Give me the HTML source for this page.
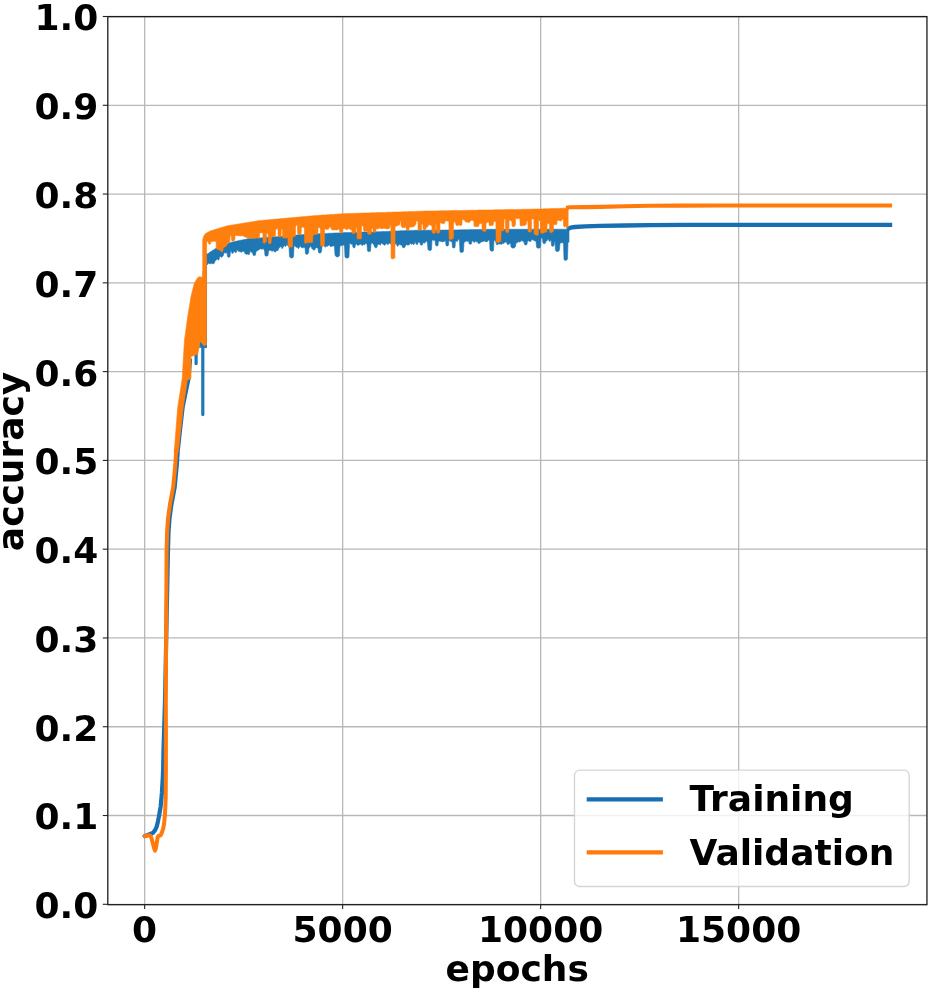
<!DOCTYPE html>
<html lang="en">
<head>
<meta charset="utf-8">
<title>accuracy vs epochs</title>
<style>
html,body{margin:0;padding:0;background:#fff;}
body{width:931px;height:992px;overflow:hidden;}
svg text{white-space:pre;}
</style>
</head>
<body>
<svg width="931" height="992" viewBox="0 0 931 992" style="display:block">
<rect x="0" y="0" width="931" height="992" fill="#fff"/>
<g stroke="#b8b8b8" stroke-width="1.3" fill="none">
<line x1="144.65" y1="16.5" x2="144.65" y2="904.3"/>
<line x1="342.65" y1="16.5" x2="342.65" y2="904.3"/>
<line x1="540.65" y1="16.5" x2="540.65" y2="904.3"/>
<line x1="738.65" y1="16.5" x2="738.65" y2="904.3"/>
<line x1="107.7" y1="904.30" x2="926.8" y2="904.30"/>
<line x1="107.7" y1="815.52" x2="926.8" y2="815.52"/>
<line x1="107.7" y1="726.74" x2="926.8" y2="726.74"/>
<line x1="107.7" y1="637.96" x2="926.8" y2="637.96"/>
<line x1="107.7" y1="549.18" x2="926.8" y2="549.18"/>
<line x1="107.7" y1="460.40" x2="926.8" y2="460.40"/>
<line x1="107.7" y1="371.62" x2="926.8" y2="371.62"/>
<line x1="107.7" y1="282.84" x2="926.8" y2="282.84"/>
<line x1="107.7" y1="194.06" x2="926.8" y2="194.06"/>
<line x1="107.7" y1="105.28" x2="926.8" y2="105.28"/>
<line x1="107.7" y1="16.50" x2="926.8" y2="16.50"/>
</g>
<clipPath id="ax"><rect x="107.7" y="16.5" width="819.0999999999999" height="887.8"/></clipPath>
<g clip-path="url(#ax)">
<g fill="#1f77b4" stroke="#1f77b4" stroke-linejoin="round" stroke-linecap="round">
<polygon points="206.0,254.9 206.5,254.6 207.0,254.2 207.5,253.9 208.0,253.5 208.5,253.2 209.0,252.9 209.5,252.5 210.0,252.2 210.5,251.8 211.0,251.5 211.5,251.2 212.0,250.9 212.5,250.5 213.0,250.2 213.5,249.9 214.0,249.6 214.5,249.3 215.0,248.9 215.5,248.6 216.0,248.3 216.5,248.1 217.0,247.9 217.5,247.7 218.0,247.5 218.5,247.3 219.0,247.1 219.5,246.9 220.0,246.7 220.5,246.4 221.0,246.2 221.5,246.0 222.0,245.8 222.5,245.6 223.0,245.4 223.5,245.2 224.0,245.0 224.5,244.8 225.0,244.6 225.5,244.4 226.0,244.3 226.5,244.1 227.0,243.9 227.5,243.7 228.0,243.5 228.5,243.3 229.0,243.1 229.5,243.0 230.0,242.8 230.5,242.6 231.0,242.4 231.5,242.3 232.0,242.2 232.5,242.1 233.0,241.9 233.5,241.8 234.0,241.7 234.5,241.6 235.0,241.5 235.5,241.4 236.0,241.3 236.5,241.1 237.0,241.0 237.5,240.9 238.0,240.8 238.5,240.7 239.0,240.6 239.5,240.5 240.0,240.4 240.5,240.3 241.0,240.2 241.5,240.1 242.0,240.0 242.5,239.9 243.0,239.8 243.5,239.7 244.0,239.6 244.5,239.5 245.0,239.4 245.5,239.3 246.0,239.2 246.5,239.1 247.0,239.0 247.5,238.9 248.0,238.9 248.5,238.8 249.0,238.7 249.5,238.6 250.0,238.5 250.5,238.5 251.0,238.4 251.5,238.4 252.0,238.4 252.5,238.4 253.0,238.3 253.5,238.3 254.0,238.3 254.5,238.2 255.0,238.2 255.5,238.2 256.0,238.2 256.5,238.1 257.0,238.1 257.5,238.1 258.0,238.0 258.5,238.0 259.0,238.0 259.5,237.9 260.0,237.9 260.5,237.9 261.0,237.9 261.5,237.8 262.0,237.8 262.5,237.8 263.0,237.7 263.5,237.7 264.0,237.7 264.5,237.6 265.0,237.6 265.5,237.5 266.0,237.5 266.5,237.5 267.0,237.4 267.5,237.4 268.0,237.4 268.5,237.3 269.0,237.3 269.5,237.3 270.0,237.2 270.5,237.2 271.0,237.2 271.5,237.1 272.0,237.1 272.5,237.0 273.0,237.0 273.5,237.0 274.0,236.9 274.5,236.9 275.0,236.9 275.5,236.8 276.0,236.8 276.5,236.8 277.0,236.7 277.5,236.7 278.0,236.6 278.5,236.6 279.0,236.6 279.5,236.5 280.0,236.5 280.5,236.5 281.0,236.4 281.5,236.4 282.0,236.3 282.5,236.3 283.0,236.2 283.5,236.2 284.0,236.2 284.5,236.1 285.0,236.1 285.5,236.0 286.0,236.0 286.5,235.9 287.0,235.9 287.5,235.9 288.0,235.8 288.5,235.8 289.0,235.7 289.5,235.7 290.0,235.7 290.5,235.6 291.0,235.6 291.5,235.5 292.0,235.5 292.5,235.4 293.0,235.4 293.5,235.4 294.0,235.3 294.5,235.3 295.0,235.2 295.5,235.2 296.0,235.1 296.5,235.1 297.0,235.1 297.5,235.0 298.0,235.0 298.5,234.9 299.0,234.9 299.5,234.8 300.0,234.8 300.5,234.8 301.0,234.7 301.5,234.7 302.0,234.7 302.5,234.7 303.0,234.6 303.5,234.6 304.0,234.6 304.5,234.6 305.0,234.5 305.5,234.5 306.0,234.5 306.5,234.4 307.0,234.4 307.5,234.4 308.0,234.4 308.5,234.3 309.0,234.3 309.5,234.3 310.0,234.2 310.5,234.2 311.0,234.2 311.5,234.2 312.0,234.1 312.5,234.1 313.0,234.1 313.5,234.1 314.0,234.0 314.5,234.0 315.0,234.0 315.5,233.9 316.0,233.9 316.5,233.9 317.0,233.9 317.5,233.8 318.0,233.8 318.5,233.8 319.0,233.8 319.5,233.7 320.0,233.7 320.5,233.7 321.0,233.7 321.5,233.6 322.0,233.6 322.5,233.6 323.0,233.6 323.5,233.5 324.0,233.5 324.5,233.5 325.0,233.5 325.5,233.5 326.0,233.4 326.5,233.4 327.0,233.4 327.5,233.4 328.0,233.4 328.5,233.3 329.0,233.3 329.5,233.3 330.0,233.3 330.5,233.2 331.0,233.2 331.5,233.2 332.0,233.2 332.5,233.2 333.0,233.1 333.5,233.1 334.0,233.1 334.5,233.1 335.0,233.1 335.5,233.0 336.0,233.0 336.5,233.0 337.0,233.0 337.5,232.9 338.0,232.9 338.5,232.9 339.0,232.9 339.5,232.9 340.0,232.8 340.5,232.8 341.0,232.8 341.5,232.8 342.0,232.7 342.5,232.7 343.0,232.7 343.5,232.7 344.0,232.7 344.5,232.6 345.0,232.6 345.5,232.6 346.0,232.6 346.5,232.6 347.0,232.5 347.5,232.5 348.0,232.5 348.5,232.5 349.0,232.4 349.5,232.4 350.0,232.4 350.5,232.4 351.0,232.4 351.5,232.4 352.0,232.4 352.5,232.3 353.0,232.3 353.5,232.3 354.0,232.3 354.5,232.3 355.0,232.3 355.5,232.3 356.0,232.3 356.5,232.2 357.0,232.2 357.5,232.2 358.0,232.2 358.5,232.2 359.0,232.2 359.5,232.2 360.0,232.2 360.5,232.2 361.0,232.1 361.5,232.1 362.0,232.1 362.5,232.1 363.0,232.1 363.5,232.1 364.0,232.1 364.5,232.1 365.0,232.1 365.5,232.0 366.0,232.0 366.5,232.0 367.0,232.0 367.5,232.0 368.0,232.0 368.5,232.0 369.0,232.0 369.5,231.9 370.0,231.9 370.5,231.9 371.0,231.9 371.5,231.9 372.0,231.9 372.5,231.9 373.0,231.9 373.5,231.9 374.0,231.8 374.5,231.8 375.0,231.8 375.5,231.8 376.0,231.8 376.5,231.8 377.0,231.8 377.5,231.8 378.0,231.7 378.5,231.7 379.0,231.7 379.5,231.7 380.0,231.7 380.5,231.7 381.0,231.7 381.5,231.6 382.0,231.6 382.5,231.6 383.0,231.6 383.5,231.5 384.0,231.5 384.5,231.5 385.0,231.5 385.5,231.5 386.0,231.4 386.5,231.4 387.0,231.4 387.5,231.4 388.0,231.4 388.5,231.3 389.0,231.3 389.5,231.3 390.0,231.3 390.5,231.2 391.0,231.2 391.5,231.2 392.0,231.2 392.5,231.2 393.0,231.1 393.5,231.1 394.0,231.1 394.5,231.1 395.0,231.1 395.5,231.0 396.0,231.0 396.5,231.0 397.0,231.0 397.5,230.9 398.0,230.9 398.5,230.9 399.0,230.9 399.5,230.9 400.0,230.8 400.5,230.8 401.0,230.8 401.5,230.8 402.0,230.7 402.5,230.7 403.0,230.7 403.5,230.7 404.0,230.7 404.5,230.6 405.0,230.6 405.5,230.6 406.0,230.6 406.5,230.6 407.0,230.5 407.5,230.5 408.0,230.5 408.5,230.5 409.0,230.4 409.5,230.4 410.0,230.4 410.5,230.4 411.0,230.4 411.5,230.4 412.0,230.4 412.5,230.4 413.0,230.4 413.5,230.4 414.0,230.4 414.5,230.4 415.0,230.3 415.5,230.3 416.0,230.3 416.5,230.3 417.0,230.3 417.5,230.3 418.0,230.3 418.5,230.3 419.0,230.3 419.5,230.3 420.0,230.3 420.5,230.3 421.0,230.3 421.5,230.3 422.0,230.3 422.5,230.3 423.0,230.3 423.5,230.3 424.0,230.3 424.5,230.3 425.0,230.2 425.5,230.2 426.0,230.2 426.5,230.2 427.0,230.2 427.5,230.2 428.0,230.2 428.5,230.2 429.0,230.2 429.5,230.2 430.0,230.2 430.5,230.2 431.0,230.2 431.5,230.2 432.0,230.2 432.5,230.2 433.0,230.2 433.5,230.2 434.0,230.2 434.5,230.2 435.0,230.2 435.5,230.1 436.0,230.1 436.5,230.1 437.0,230.1 437.5,230.1 438.0,230.1 438.5,230.1 439.0,230.1 439.5,230.1 440.0,230.1 440.5,230.1 441.0,230.1 441.5,230.1 442.0,230.1 442.5,230.1 443.0,230.1 443.5,230.1 444.0,230.1 444.5,230.1 445.0,230.1 445.5,230.0 446.0,230.0 446.5,230.0 447.0,230.0 447.5,230.0 448.0,230.0 448.5,230.0 449.0,230.0 449.5,230.0 450.0,230.0 450.5,230.0 451.0,230.0 451.5,230.0 452.0,230.0 452.5,230.0 453.0,229.9 453.5,229.9 454.0,229.9 454.5,229.9 455.0,229.9 455.5,229.9 456.0,229.9 456.5,229.9 457.0,229.9 457.5,229.9 458.0,229.9 458.5,229.9 459.0,229.8 459.5,229.8 460.0,229.8 460.5,229.8 461.0,229.8 461.5,229.8 462.0,229.8 462.5,229.8 463.0,229.8 463.5,229.8 464.0,229.8 464.5,229.7 465.0,229.7 465.5,229.7 466.0,229.7 466.5,229.7 467.0,229.7 467.5,229.7 468.0,229.7 468.5,229.7 469.0,229.7 469.5,229.7 470.0,229.7 470.5,229.6 471.0,229.6 471.5,229.6 472.0,229.6 472.5,229.6 473.0,229.6 473.5,229.6 474.0,229.6 474.5,229.6 475.0,229.6 475.5,229.6 476.0,229.5 476.5,229.5 477.0,229.5 477.5,229.5 478.0,229.5 478.5,229.5 479.0,229.5 479.5,229.5 480.0,229.5 480.5,229.5 481.0,229.5 481.5,229.4 482.0,229.4 482.5,229.4 483.0,229.4 483.5,229.4 484.0,229.4 484.5,229.4 485.0,229.4 485.5,229.4 486.0,229.4 486.5,229.4 487.0,229.4 487.5,229.3 488.0,229.3 488.5,229.3 489.0,229.3 489.5,229.3 490.0,229.3 490.5,229.3 491.0,229.3 491.5,229.3 492.0,229.3 492.5,229.3 493.0,229.3 493.5,229.3 494.0,229.3 494.5,229.3 495.0,229.3 495.5,229.3 496.0,229.3 496.5,229.3 497.0,229.3 497.5,229.3 498.0,229.3 498.5,229.3 499.0,229.3 499.5,229.3 500.0,229.3 500.5,229.3 501.0,229.3 501.5,229.3 502.0,229.3 502.5,229.3 503.0,229.3 503.5,229.3 504.0,229.3 504.5,229.3 505.0,229.3 505.5,229.3 506.0,229.3 506.5,229.3 507.0,229.3 507.5,229.3 508.0,229.3 508.5,229.3 509.0,229.3 509.5,229.3 510.0,229.3 510.5,229.3 511.0,229.3 511.5,229.3 512.0,229.3 512.5,229.3 513.0,229.3 513.5,229.3 514.0,229.3 514.5,229.3 515.0,229.3 515.5,229.3 516.0,229.3 516.5,229.3 517.0,229.3 517.5,229.3 518.0,229.3 518.5,229.3 519.0,229.3 519.5,229.3 520.0,229.3 520.5,229.3 521.0,229.3 521.5,229.3 522.0,229.3 522.5,229.3 523.0,229.3 523.5,229.3 524.0,229.3 524.5,229.3 525.0,229.3 525.5,229.3 526.0,229.3 526.5,229.3 527.0,229.3 527.5,229.3 528.0,229.3 528.5,229.3 529.0,229.3 529.5,229.2 530.0,229.2 530.5,229.2 531.0,229.2 531.5,229.2 532.0,229.2 532.5,229.2 533.0,229.2 533.5,229.2 534.0,229.2 534.5,229.2 535.0,229.2 535.5,229.2 536.0,229.2 536.5,229.2 537.0,229.2 537.5,229.2 538.0,229.2 538.5,229.2 539.0,229.2 539.5,229.2 540.0,229.2 540.5,229.2 541.0,229.2 541.5,229.2 542.0,229.2 542.5,229.2 543.0,229.2 543.5,229.2 544.0,229.2 544.5,229.2 545.0,229.2 545.5,229.2 546.0,229.2 546.5,229.2 547.0,229.2 547.5,229.2 548.0,229.2 548.5,229.2 549.0,229.2 549.5,229.2 550.0,229.2 550.5,229.2 551.0,229.2 551.5,229.2 552.0,229.2 552.5,229.2 553.0,229.2 553.5,229.2 554.0,229.2 554.5,229.2 555.0,229.2 555.5,229.2 556.0,229.2 556.5,229.2 557.0,229.2 557.5,229.2 558.0,229.2 558.5,229.2 559.0,229.2 559.5,229.2 560.0,229.2 560.5,229.2 561.0,229.2 561.5,229.2 562.0,229.2 562.5,229.2 563.0,229.2 563.5,229.2 564.0,229.2 564.5,229.2 565.0,229.2 565.5,229.2 566.0,229.2 566.5,229.2 567.0,229.2 567.5,229.2 568.0,229.2 568.5,229.2 569.0,229.2 569.0,242.4 568.5,242.0 568.0,241.8 567.5,259.0 567.0,259.8 566.5,260.2 566.0,260.4 565.5,260.4 565.0,260.3 564.5,260.1 564.0,259.6 563.5,243.1 563.0,242.9 562.5,242.8 562.0,242.4 561.5,242.8 561.0,242.9 560.5,243.0 560.0,243.2 559.5,249.7 559.0,250.7 558.5,251.2 558.0,251.4 557.5,251.5 557.0,251.5 556.5,251.4 556.0,251.1 555.5,250.6 555.0,241.7 554.5,241.6 554.0,245.6 553.5,246.1 553.0,246.3 552.5,246.3 552.0,246.1 551.5,245.8 551.0,239.7 550.5,240.0 550.0,241.4 549.5,241.3 549.0,240.9 548.5,239.4 548.0,239.3 547.5,239.4 547.0,240.9 546.5,241.0 546.0,240.8 545.5,243.1 545.0,243.5 544.5,243.7 544.0,243.7 543.5,243.5 543.0,242.9 542.5,239.1 542.0,238.1 541.5,238.0 541.0,238.3 540.5,247.2 540.0,247.7 539.5,248.0 539.0,248.1 538.5,248.2 538.0,248.1 537.5,248.0 537.0,247.7 536.5,247.2 536.0,241.3 535.5,241.1 535.0,240.9 534.5,241.1 534.0,239.7 533.5,240.1 533.0,240.2 532.5,239.8 532.0,239.5 531.5,239.4 531.0,241.1 530.5,241.5 530.0,241.7 529.5,241.4 529.0,241.0 528.5,240.8 528.0,240.9 527.5,241.1 527.0,244.2 526.5,244.8 526.0,245.0 525.5,245.0 525.0,244.8 524.5,244.4 524.0,241.8 523.5,242.1 523.0,241.1 522.5,240.9 522.0,240.6 521.5,240.8 521.0,241.1 520.5,241.5 520.0,241.7 519.5,242.2 519.0,241.9 518.5,241.6 518.0,242.1 517.5,242.4 517.0,242.7 516.5,243.0 516.0,242.8 515.5,246.6 515.0,247.3 514.5,247.7 514.0,248.0 513.5,248.1 513.0,248.1 512.5,248.0 512.0,247.8 511.5,247.4 511.0,246.8 510.5,242.6 510.0,243.2 509.5,243.7 509.0,244.3 508.5,244.5 508.0,244.5 507.5,244.3 507.0,243.9 506.5,242.1 506.0,241.8 505.5,242.1 505.0,242.0 504.5,242.7 504.0,243.5 503.5,243.2 503.0,243.5 502.5,243.6 502.0,244.1 501.5,244.2 501.0,244.5 500.5,244.1 500.0,244.1 499.5,243.9 499.0,244.0 498.5,243.8 498.0,244.0 497.5,244.9 497.0,245.1 496.5,244.1 496.0,242.8 495.5,241.0 495.0,240.0 494.5,240.4 494.0,240.0 493.5,250.4 493.0,250.9 492.5,251.1 492.0,251.2 491.5,251.2 491.0,251.0 490.5,250.6 490.0,249.8 489.5,240.5 489.0,240.2 488.5,240.2 488.0,240.5 487.5,241.5 487.0,241.8 486.5,241.7 486.0,241.8 485.5,241.6 485.0,241.7 484.5,240.7 484.0,241.1 483.5,241.1 483.0,242.0 482.5,241.6 482.0,241.4 481.5,242.0 481.0,242.4 480.5,242.6 480.0,242.8 479.5,243.4 479.0,243.6 478.5,243.6 478.0,243.3 477.5,241.4 477.0,241.6 476.5,242.0 476.0,241.6 475.5,241.3 475.0,241.9 474.5,242.2 474.0,242.5 473.5,241.5 473.0,241.3 472.5,240.9 472.0,240.8 471.5,243.8 471.0,244.2 470.5,244.3 470.0,244.2 469.5,244.0 469.0,243.3 468.5,240.7 468.0,241.0 467.5,241.4 467.0,241.3 466.5,241.1 466.0,240.8 465.5,241.7 465.0,241.8 464.5,242.1 464.0,242.3 463.5,251.1 463.0,251.9 462.5,252.3 462.0,252.5 461.5,252.5 461.0,252.4 460.5,252.2 460.0,251.7 459.5,241.7 459.0,239.2 458.5,239.2 458.0,239.5 457.5,241.5 457.0,241.5 456.5,241.3 456.0,241.0 455.5,241.3 455.0,247.3 454.5,247.8 454.0,248.0 453.5,248.0 453.0,247.8 452.5,247.5 452.0,241.6 451.5,242.0 451.0,241.0 450.5,241.2 450.0,241.1 449.5,240.4 449.0,240.2 448.5,245.2 448.0,245.8 447.5,246.0 447.0,246.0 446.5,245.8 446.0,245.4 445.5,240.2 445.0,240.4 444.5,241.4 444.0,241.6 443.5,241.5 443.0,242.1 442.5,241.9 442.0,241.9 441.5,241.2 441.0,241.5 440.5,241.5 440.0,241.1 439.5,241.3 439.0,241.0 438.5,241.1 438.0,245.5 437.5,245.9 437.0,246.0 436.5,245.9 436.0,245.7 435.5,245.0 435.0,240.0 434.5,240.3 434.0,240.3 433.5,240.6 433.0,240.1 432.5,240.1 432.0,240.3 431.5,249.7 431.0,250.2 430.5,250.5 430.0,250.6 429.5,250.6 429.0,250.4 428.5,250.1 428.0,249.5 427.5,243.5 427.0,241.4 426.5,241.1 426.0,240.9 425.5,242.3 425.0,242.6 424.5,243.0 424.0,243.2 423.5,242.7 423.0,242.4 422.5,244.8 422.0,245.1 421.5,245.2 421.0,245.1 420.5,244.8 420.0,242.9 419.5,242.6 419.0,241.9 418.5,242.2 418.0,242.6 417.5,244.7 417.0,244.6 416.5,244.3 416.0,244.1 415.5,242.1 415.0,242.5 414.5,242.9 414.0,244.7 413.5,244.5 413.0,244.2 412.5,243.7 412.0,244.0 411.5,244.4 411.0,243.5 410.5,243.4 410.0,243.2 409.5,244.6 409.0,244.7 408.5,245.0 408.0,245.3 407.5,245.1 407.0,244.9 406.5,244.5 406.0,245.2 405.5,245.4 405.0,246.8 404.5,247.5 404.0,247.7 403.5,247.8 403.0,247.7 402.5,247.3 402.0,245.6 401.5,244.9 401.0,245.1 400.5,245.0 400.0,244.6 399.5,244.5 399.0,244.6 398.5,244.9 398.0,246.1 397.5,246.2 397.0,245.9 396.5,243.9 396.0,243.7 395.5,243.9 395.0,243.9 394.5,244.1 394.0,244.0 393.5,244.3 393.0,244.0 392.5,243.9 392.0,244.2 391.5,244.1 391.0,244.2 390.5,244.0 390.0,243.2 389.5,243.0 389.0,243.1 388.5,244.2 388.0,244.5 387.5,244.5 387.0,243.8 386.5,243.5 386.0,243.3 385.5,244.7 385.0,245.0 384.5,245.2 384.0,245.1 383.5,244.4 383.0,244.1 382.5,244.0 382.0,242.9 381.5,243.2 381.0,243.2 380.5,245.2 380.0,244.8 379.5,244.6 379.0,244.2 378.5,244.5 378.0,244.7 377.5,244.5 377.0,247.3 376.5,247.7 376.0,247.8 375.5,247.7 375.0,247.5 374.5,246.8 374.0,244.8 373.5,244.4 373.0,244.1 372.5,242.7 372.0,243.0 371.5,243.4 371.0,243.8 370.5,251.0 370.0,251.4 369.5,251.6 369.0,251.7 368.5,251.6 368.0,251.4 367.5,251.0 367.0,244.2 366.5,244.0 366.0,243.3 365.5,243.6 365.0,244.1 364.5,245.0 364.0,244.9 363.5,244.6 363.0,245.1 362.5,245.3 362.0,245.7 361.5,244.3 361.0,244.4 360.5,244.1 360.0,243.9 359.5,244.7 359.0,244.9 358.5,245.2 358.0,245.4 357.5,245.2 357.0,244.8 356.5,243.9 356.0,243.9 355.5,244.2 355.0,247.4 354.5,247.7 354.0,247.8 353.5,247.7 353.0,247.4 352.5,244.0 352.0,244.4 351.5,244.3 351.0,244.2 350.5,243.9 350.0,242.9 349.5,242.9 349.0,257.1 348.5,257.6 348.0,257.9 347.5,258.0 347.0,258.1 346.5,258.0 346.0,257.9 345.5,257.6 345.0,257.1 344.5,245.7 344.0,245.4 343.5,245.1 343.0,245.0 342.5,245.3 342.0,245.5 341.5,245.7 341.0,245.7 340.5,245.8 340.0,245.6 339.5,255.8 339.0,256.3 338.5,256.6 338.0,256.8 337.5,256.9 337.0,256.9 336.5,256.7 336.0,256.5 335.5,256.0 335.0,255.1 334.5,246.6 334.0,246.2 333.5,245.9 333.0,245.8 332.5,246.0 332.0,246.4 331.5,246.6 331.0,246.8 330.5,246.4 330.0,246.2 329.5,244.7 329.0,245.1 328.5,245.4 328.0,245.4 327.5,246.5 327.0,246.1 326.5,246.0 326.0,246.6 325.5,247.0 325.0,247.2 324.5,246.0 324.0,245.7 323.5,245.4 323.0,245.6 322.5,246.0 322.0,246.5 321.5,251.7 321.0,252.5 320.5,252.9 320.0,253.0 319.5,253.0 319.0,252.8 318.5,252.4 318.0,248.2 317.5,248.0 317.0,247.8 316.5,247.5 316.0,247.8 315.5,248.3 315.0,249.6 314.5,249.9 314.0,250.0 313.5,249.9 313.0,249.6 312.5,248.7 312.0,249.0 311.5,246.9 311.0,246.7 310.5,246.3 310.0,247.4 309.5,247.5 309.0,247.9 308.5,253.0 308.0,253.8 307.5,254.2 307.0,254.3 306.5,254.3 306.0,254.1 305.5,253.7 305.0,247.7 304.5,247.5 304.0,247.1 303.5,247.6 303.0,247.7 302.5,248.1 302.0,247.6 301.5,247.6 301.0,247.3 300.5,246.3 300.0,246.2 299.5,246.4 299.0,248.3 298.5,248.5 298.0,248.3 297.5,247.5 297.0,247.2 296.5,247.1 296.0,247.4 295.5,246.0 295.0,246.0 294.5,245.7 294.0,246.6 293.5,257.0 293.0,257.5 292.5,257.8 292.0,258.0 291.5,258.0 291.0,257.9 290.5,257.7 290.0,257.3 289.5,256.6 289.0,246.1 288.5,246.1 288.0,245.9 287.5,245.1 287.0,244.8 286.5,244.8 286.0,246.1 285.5,246.4 285.0,246.4 284.5,245.7 284.0,245.7 283.5,245.9 283.0,247.6 282.5,248.2 282.0,248.8 281.5,246.8 281.0,246.8 280.5,246.8 280.0,247.1 279.5,247.8 279.0,248.4 278.5,248.8 278.0,250.7 277.5,250.5 277.0,250.5 276.5,251.0 276.0,251.6 275.5,252.0 275.0,251.8 274.5,251.7 274.0,251.6 273.5,250.2 273.0,250.6 272.5,251.2 272.0,251.4 271.5,251.1 271.0,250.6 270.5,250.3 270.0,250.1 269.5,250.4 269.0,250.6 268.5,251.6 268.0,255.4 267.5,255.9 267.0,256.1 266.5,256.2 266.0,256.1 265.5,255.9 265.0,255.4 264.5,250.4 264.0,250.0 263.5,248.6 263.0,248.8 262.5,249.1 262.0,249.3 261.5,249.2 261.0,248.9 260.5,248.7 260.0,248.9 259.5,249.3 259.0,250.0 258.5,250.0 258.0,249.8 257.5,250.8 257.0,250.9 256.5,251.2 256.0,251.7 255.5,255.0 255.0,255.4 254.5,255.6 254.0,255.6 253.5,255.4 253.0,254.8 252.5,252.4 252.0,252.6 251.5,252.5 251.0,251.3 250.5,251.3 250.0,251.6 249.5,254.2 249.0,254.6 248.5,254.6 248.0,254.4 247.5,254.1 247.0,254.2 246.5,254.6 246.0,254.1 245.5,254.0 245.0,253.5 244.5,251.8 244.0,251.5 243.5,251.5 243.0,251.3 242.5,251.4 242.0,251.3 241.5,252.5 241.0,252.1 240.5,251.8 240.0,251.9 239.5,251.5 239.0,251.6 238.5,251.4 238.0,250.3 237.5,250.1 237.0,250.2 236.5,252.2 236.0,252.6 235.5,252.8 235.0,251.7 234.5,251.5 234.0,251.4 233.5,252.6 233.0,253.1 232.5,253.4 232.0,253.5 231.5,251.5 231.0,251.3 230.5,251.3 230.0,256.7 229.5,257.1 229.0,257.3 228.5,257.3 228.0,257.1 227.5,256.5 227.0,252.4 226.5,252.8 226.0,253.2 225.5,253.1 225.0,252.9 224.5,252.7 224.0,252.6 223.5,255.1 223.0,255.9 222.5,256.5 222.0,257.1 221.5,257.2 221.0,257.3 220.5,255.9 220.0,256.6 219.5,257.4 219.0,259.7 218.5,260.0 218.0,260.1 217.5,258.8 217.0,259.2 216.5,259.8 216.0,260.4 215.5,260.6 215.0,260.6 214.5,263.0 214.0,263.5 213.5,263.7 213.0,263.8 212.5,263.7 212.0,263.5 211.5,263.4 211.0,263.3 210.5,263.6 210.0,264.2 209.5,263.4 209.0,263.5 208.5,263.3 208.0,263.0 207.5,264.5 207.0,264.7 206.5,265.1 206.0,264.9" stroke-width="0.6"/>
<polyline points="144.6,836.1 149.5,834.2 151.5,833.6 153.3,832.6 155.0,830.3 156.5,827.2 157.7,822.6 158.8,817.2 160.7,806.3 161.9,792.7 162.7,779.1 163.1,770.0 163.5,750.0 164.2,727.0 165.0,700.0 166.6,620.0 168.0,550.0 168.5,532.0 169.5,518.5 171.5,504.0 174.7,487.0 176.8,465.0 177.8,450.0 182.6,407.4 188.5,378.6 190.0,360.0" fill="none" stroke="#176fb2" stroke-width="4.2"/>
<line x1="196.1" y1="348" x2="196.1" y2="363.6" stroke-width="3.2"/>
<line x1="202.8" y1="338" x2="202.8" y2="414.6" stroke-width="3.2"/>
<polygon points="199.5,338 206.3,338 206.3,347.3 199.5,347.3" stroke-width="0.8"/>
<line x1="205.6" y1="347" x2="205.6" y2="254" stroke-width="2.6"/>
<polyline points="569.0,228.3 570.5,227.7 572.0,227.4 575.0,227.0 585.0,226.4 600.0,225.9 625.0,225.5 650.0,225.1 685.0,224.9 720.0,224.9 890.0,224.9" fill="none" stroke="#176fb2" stroke-width="4.4" stroke-linecap="square"/>
</g>
<g fill="#ff7f0e" stroke="#ff7f0e" stroke-linejoin="round" stroke-linecap="round">
<polygon points="174.2,452.0 177.7,407.4 182.2,378.6 184.4,340.9 187.5,318.0 191.0,296.5 194.3,283.2 197.7,277.7 200.0,276.6 202.1,277.7 202.7,270.0 202.7,240.0 203.5,236.5 205.5,233.5 206.6,232.9 206.8,232.8 207.1,232.7 207.3,232.5 207.6,232.4 207.8,232.3 208.1,232.1 208.3,232.0 208.6,231.9 208.8,231.8 209.1,231.6 209.3,231.5 209.6,231.4 209.8,231.2 210.1,231.1 210.3,231.0 210.6,230.9 210.8,230.8 211.1,230.7 211.3,230.6 211.6,230.6 211.8,230.5 212.1,230.4 212.3,230.3 212.6,230.3 212.8,230.2 213.1,230.1 213.3,230.0 213.6,230.0 213.8,229.9 214.1,229.8 214.3,229.7 214.6,229.6 214.8,229.6 215.1,229.5 215.3,229.4 215.6,229.3 215.8,229.3 216.1,229.2 216.3,229.1 216.6,229.0 216.8,229.0 217.1,228.9 217.3,228.8 217.6,228.7 217.8,228.7 218.1,228.6 218.3,228.5 218.6,228.4 218.8,228.4 219.1,228.3 219.3,228.2 219.6,228.1 219.8,228.0 220.1,228.0 220.3,227.9 220.6,227.8 220.8,227.7 221.1,227.7 221.3,227.6 221.6,227.5 221.8,227.4 222.1,227.4 222.3,227.3 222.6,227.2 222.8,227.1 223.1,227.1 223.3,227.0 223.6,226.9 223.8,226.8 224.1,226.7 224.3,226.7 224.6,226.6 224.8,226.5 225.1,226.4 225.3,226.4 225.6,226.3 225.8,226.2 226.1,226.1 226.3,226.1 226.6,226.0 226.8,225.9 227.1,225.8 227.3,225.8 227.6,225.7 227.8,225.7 228.1,225.7 228.3,225.6 228.6,225.6 228.8,225.5 229.1,225.5 229.3,225.5 229.6,225.4 229.8,225.4 230.1,225.3 230.3,225.3 230.6,225.3 230.8,225.2 231.1,225.2 231.3,225.1 231.6,225.1 231.8,225.0 232.1,225.0 232.3,225.0 232.6,224.9 232.8,224.9 233.1,224.8 233.3,224.8 233.6,224.8 233.8,224.7 234.1,224.7 234.3,224.6 234.6,224.6 234.8,224.6 235.1,224.5 235.3,224.5 235.6,224.4 235.8,224.4 236.1,224.4 236.3,224.3 236.6,224.3 236.8,224.2 237.1,224.2 237.3,224.2 237.6,224.1 237.8,224.1 238.1,224.0 238.3,224.0 238.6,224.0 238.8,223.9 239.1,223.9 239.3,223.8 239.6,223.8 239.8,223.8 240.1,223.7 240.3,223.7 240.6,223.6 240.8,223.6 241.1,223.6 241.3,223.5 241.6,223.5 241.8,223.4 242.1,223.4 242.3,223.4 242.6,223.3 242.8,223.3 243.1,223.2 243.3,223.2 243.6,223.2 243.8,223.1 244.1,223.1 244.3,223.0 244.6,223.0 244.8,222.9 245.1,222.9 245.3,222.9 245.6,222.8 245.8,222.8 246.1,222.7 246.3,222.7 246.6,222.7 246.8,222.6 247.1,222.6 247.3,222.5 247.6,222.5 247.8,222.5 248.1,222.4 248.3,222.4 248.6,222.3 248.8,222.3 249.1,222.3 249.3,222.2 249.6,222.2 249.8,222.1 250.1,222.1 250.3,222.1 250.6,222.0 250.8,222.0 251.1,221.9 251.3,221.9 251.6,221.9 251.8,221.8 252.1,221.8 252.3,221.7 252.6,221.7 252.8,221.7 253.1,221.6 253.3,221.6 253.6,221.5 253.8,221.5 254.1,221.5 254.3,221.4 254.6,221.4 254.8,221.3 255.1,221.3 255.3,221.3 255.6,221.2 255.8,221.2 256.1,221.1 256.4,221.1 256.6,221.1 256.9,221.0 257.1,221.0 257.4,220.9 257.6,220.9 257.9,220.9 258.1,220.8 258.4,220.8 258.6,220.7 258.9,220.7 259.1,220.6 259.4,220.6 259.6,220.6 259.9,220.6 260.1,220.5 260.4,220.5 260.6,220.5 260.9,220.5 261.1,220.4 261.4,220.4 261.6,220.4 261.9,220.4 262.1,220.4 262.4,220.3 262.6,220.3 262.9,220.3 263.1,220.3 263.4,220.2 263.6,220.2 263.9,220.2 264.1,220.2 264.4,220.2 264.6,220.1 264.9,220.1 265.1,220.1 265.4,220.1 265.6,220.0 265.9,220.0 266.1,220.0 266.4,220.0 266.6,220.0 266.9,219.9 267.1,219.9 267.4,219.9 267.6,219.9 267.9,219.8 268.1,219.8 268.4,219.8 268.6,219.8 268.9,219.8 269.1,219.7 269.4,219.7 269.6,219.7 269.9,219.7 270.1,219.6 270.4,219.6 270.6,219.6 270.9,219.6 271.1,219.5 271.4,219.5 271.6,219.5 271.9,219.5 272.1,219.5 272.4,219.4 272.6,219.4 272.9,219.4 273.1,219.4 273.4,219.3 273.6,219.3 273.9,219.3 274.1,219.3 274.4,219.3 274.6,219.2 274.9,219.2 275.1,219.2 275.4,219.2 275.6,219.1 275.9,219.1 276.1,219.1 276.4,219.1 276.6,219.1 276.9,219.0 277.1,219.0 277.4,219.0 277.6,219.0 277.9,218.9 278.1,218.9 278.4,218.9 278.6,218.9 278.9,218.9 279.1,218.8 279.4,218.8 279.6,218.8 279.9,218.8 280.1,218.7 280.4,218.7 280.6,218.7 280.9,218.7 281.1,218.6 281.4,218.6 281.6,218.6 281.9,218.6 282.1,218.6 282.4,218.5 282.6,218.5 282.9,218.5 283.1,218.5 283.4,218.4 283.6,218.4 283.9,218.4 284.1,218.4 284.4,218.4 284.6,218.3 284.9,218.3 285.1,218.3 285.4,218.3 285.6,218.2 285.9,218.2 286.1,218.2 286.4,218.2 286.6,218.2 286.9,218.1 287.1,218.1 287.4,218.1 287.6,218.1 287.9,218.0 288.1,218.0 288.4,218.0 288.6,218.0 288.9,218.0 289.1,217.9 289.4,217.9 289.6,217.9 289.9,217.9 290.1,217.8 290.4,217.8 290.6,217.8 290.9,217.8 291.1,217.7 291.4,217.7 291.6,217.7 291.9,217.7 292.1,217.7 292.4,217.6 292.6,217.6 292.9,217.6 293.1,217.6 293.4,217.5 293.6,217.5 293.9,217.5 294.1,217.5 294.4,217.5 294.6,217.4 294.9,217.4 295.1,217.4 295.4,217.4 295.6,217.3 295.9,217.3 296.1,217.3 296.4,217.3 296.6,217.3 296.9,217.2 297.1,217.2 297.4,217.2 297.6,217.2 297.9,217.1 298.1,217.1 298.4,217.1 298.6,217.1 298.9,217.1 299.1,217.0 299.4,217.0 299.6,217.0 299.9,217.0 300.1,216.9 300.4,216.9 300.6,216.9 300.9,216.9 301.1,216.8 301.4,216.8 301.6,216.8 301.9,216.8 302.1,216.8 302.4,216.7 302.6,216.7 302.9,216.7 303.1,216.7 303.4,216.6 303.6,216.6 303.9,216.6 304.1,216.6 304.4,216.6 304.6,216.5 304.9,216.5 305.1,216.5 305.4,216.5 305.6,216.4 305.9,216.4 306.1,216.4 306.4,216.4 306.6,216.4 306.9,216.3 307.1,216.3 307.4,216.3 307.6,216.3 307.9,216.2 308.1,216.2 308.4,216.2 308.6,216.2 308.9,216.2 309.1,216.1 309.4,216.1 309.6,216.1 309.9,216.1 310.1,216.0 310.4,216.0 310.6,216.0 310.9,216.0 311.1,216.0 311.4,215.9 311.6,215.9 311.9,215.9 312.1,215.9 312.4,215.8 312.6,215.8 312.9,215.8 313.1,215.8 313.4,215.7 313.6,215.7 313.9,215.7 314.1,215.7 314.4,215.7 314.6,215.6 314.9,215.6 315.1,215.6 315.4,215.6 315.6,215.6 315.9,215.5 316.1,215.5 316.4,215.5 316.6,215.5 316.9,215.5 317.1,215.5 317.4,215.4 317.6,215.4 317.9,215.4 318.1,215.4 318.4,215.4 318.6,215.4 318.9,215.3 319.1,215.3 319.4,215.3 319.6,215.3 319.9,215.3 320.1,215.3 320.4,215.2 320.6,215.2 320.9,215.2 321.1,215.2 321.4,215.2 321.6,215.2 321.9,215.1 322.1,215.1 322.4,215.1 322.6,215.1 322.9,215.1 323.1,215.1 323.4,215.0 323.6,215.0 323.9,215.0 324.1,215.0 324.4,215.0 324.6,215.0 324.9,214.9 325.1,214.9 325.4,214.9 325.6,214.9 325.9,214.9 326.1,214.9 326.4,214.8 326.6,214.8 326.9,214.8 327.1,214.8 327.4,214.8 327.6,214.8 327.9,214.7 328.1,214.7 328.4,214.7 328.6,214.7 328.9,214.7 329.1,214.7 329.4,214.6 329.6,214.6 329.9,214.6 330.1,214.6 330.4,214.6 330.6,214.6 330.9,214.6 331.1,214.5 331.4,214.5 331.6,214.5 331.9,214.5 332.1,214.5 332.4,214.5 332.6,214.4 332.9,214.4 333.1,214.4 333.4,214.4 333.6,214.4 333.9,214.4 334.1,214.3 334.4,214.3 334.6,214.3 334.9,214.3 335.1,214.3 335.4,214.3 335.6,214.2 335.9,214.2 336.1,214.2 336.4,214.2 336.6,214.2 336.9,214.2 337.1,214.1 337.4,214.1 337.6,214.1 337.9,214.1 338.1,214.1 338.4,214.1 338.6,214.0 338.9,214.0 339.1,214.0 339.4,214.0 339.6,214.0 339.9,214.0 340.1,213.9 340.4,213.9 340.6,213.9 340.9,213.9 341.1,213.9 341.4,213.9 341.6,213.8 341.9,213.8 342.1,213.8 342.4,213.8 342.6,213.8 342.9,213.8 343.1,213.7 343.4,213.7 343.6,213.7 343.9,213.7 344.1,213.7 344.4,213.7 344.6,213.7 344.9,213.7 345.1,213.7 345.4,213.6 345.6,213.6 345.9,213.6 346.1,213.6 346.4,213.6 346.6,213.6 346.9,213.6 347.1,213.6 347.4,213.6 347.6,213.6 347.9,213.6 348.1,213.6 348.4,213.6 348.6,213.5 348.9,213.5 349.1,213.5 349.4,213.5 349.6,213.5 349.9,213.5 350.1,213.5 350.4,213.5 350.6,213.5 350.9,213.5 351.1,213.5 351.4,213.5 351.6,213.4 351.9,213.4 352.1,213.4 352.4,213.4 352.6,213.4 352.9,213.4 353.1,213.4 353.4,213.4 353.6,213.4 353.9,213.4 354.1,213.4 354.4,213.4 354.6,213.4 354.9,213.3 355.1,213.3 355.4,213.3 355.6,213.3 355.9,213.3 356.1,213.3 356.4,213.3 356.6,213.3 356.9,213.3 357.1,213.3 357.4,213.3 357.6,213.3 357.9,213.2 358.1,213.2 358.4,213.2 358.6,213.2 358.9,213.2 359.1,213.2 359.4,213.2 359.6,213.2 359.9,213.2 360.1,213.2 360.4,213.2 360.6,213.2 360.9,213.2 361.1,213.1 361.4,213.1 361.6,213.1 361.9,213.1 362.1,213.1 362.4,213.1 362.6,213.1 362.9,213.1 363.1,213.1 363.4,213.1 363.6,213.1 363.9,213.1 364.1,213.0 364.4,213.0 364.6,213.0 364.9,213.0 365.1,213.0 365.4,213.0 365.6,213.0 365.9,213.0 366.1,213.0 366.4,213.0 366.6,213.0 366.9,213.0 367.1,213.0 367.4,212.9 367.6,212.9 367.9,212.9 368.1,212.9 368.4,212.9 368.6,212.9 368.9,212.9 369.1,212.9 369.4,212.9 369.6,212.9 369.9,212.9 370.1,212.9 370.4,212.8 370.6,212.8 370.9,212.8 371.1,212.8 371.4,212.8 371.6,212.8 371.9,212.8 372.1,212.8 372.4,212.8 372.6,212.8 372.9,212.8 373.1,212.8 373.4,212.8 373.6,212.7 373.9,212.7 374.1,212.7 374.4,212.7 374.6,212.7 374.9,212.7 375.1,212.7 375.4,212.7 375.6,212.7 375.9,212.7 376.1,212.7 376.4,212.7 376.6,212.6 376.9,212.6 377.1,212.6 377.4,212.6 377.6,212.6 377.9,212.6 378.1,212.6 378.4,212.6 378.6,212.6 378.9,212.6 379.1,212.6 379.4,212.6 379.6,212.6 379.9,212.5 380.1,212.5 380.4,212.5 380.6,212.5 380.9,212.5 381.1,212.5 381.4,212.5 381.6,212.5 381.9,212.5 382.1,212.5 382.4,212.5 382.6,212.5 382.9,212.4 383.1,212.4 383.4,212.4 383.6,212.4 383.9,212.4 384.1,212.4 384.4,212.4 384.6,212.4 384.9,212.4 385.1,212.4 385.4,212.4 385.6,212.4 385.9,212.4 386.1,212.3 386.4,212.3 386.6,212.3 386.9,212.3 387.1,212.3 387.4,212.3 387.6,212.3 387.9,212.3 388.1,212.3 388.4,212.3 388.6,212.3 388.9,212.3 389.1,212.2 389.4,212.2 389.6,212.2 389.9,212.2 390.1,212.2 390.4,212.2 390.6,212.2 390.9,212.2 391.1,212.2 391.4,212.2 391.6,212.2 391.9,212.2 392.1,212.2 392.4,212.1 392.6,212.1 392.9,212.1 393.1,212.1 393.4,212.1 393.6,212.1 393.9,212.1 394.1,212.1 394.4,212.1 394.6,212.1 394.9,212.1 395.1,212.1 395.4,212.0 395.6,212.0 395.9,212.0 396.1,212.0 396.4,212.0 396.6,212.0 396.9,212.0 397.1,212.0 397.4,212.0 397.6,212.0 397.9,212.0 398.1,212.0 398.4,212.0 398.6,211.9 398.9,211.9 399.1,211.9 399.4,211.9 399.6,211.9 399.9,211.9 400.1,211.9 400.4,211.9 400.6,211.9 400.9,211.9 401.1,211.9 401.4,211.9 401.6,211.8 401.9,211.8 402.1,211.8 402.4,211.8 402.6,211.8 402.9,211.8 403.1,211.8 403.4,211.8 403.6,211.8 403.9,211.8 404.1,211.8 404.4,211.8 404.6,211.8 404.9,211.7 405.1,211.7 405.4,211.7 405.6,211.7 405.9,211.7 406.1,211.7 406.4,211.7 406.6,211.7 406.9,211.7 407.1,211.7 407.4,211.7 407.6,211.7 407.9,211.6 408.1,211.6 408.4,211.6 408.6,211.6 408.9,211.6 409.1,211.6 409.4,211.6 409.6,211.6 409.9,211.6 410.1,211.6 410.4,211.6 410.6,211.6 410.9,211.6 411.1,211.5 411.4,211.5 411.6,211.5 411.9,211.5 412.1,211.5 412.4,211.5 412.6,211.5 412.9,211.5 413.1,211.5 413.4,211.5 413.6,211.5 413.9,211.5 414.1,211.4 414.4,211.4 414.6,211.4 414.9,211.4 415.1,211.4 415.4,211.4 415.6,211.4 415.9,211.4 416.1,211.4 416.4,211.4 416.6,211.4 416.9,211.4 417.1,211.4 417.4,211.3 417.6,211.3 417.9,211.3 418.1,211.3 418.4,211.3 418.6,211.3 418.9,211.3 419.1,211.3 419.4,211.3 419.6,211.3 419.9,211.3 420.1,211.3 420.4,211.2 420.6,211.2 420.9,211.2 421.1,211.2 421.4,211.2 421.6,211.2 421.9,211.2 422.1,211.2 422.4,211.2 422.6,211.2 422.9,211.2 423.1,211.2 423.4,211.2 423.6,211.1 423.9,211.1 424.1,211.1 424.4,211.1 424.6,211.1 424.9,211.1 425.1,211.1 425.4,211.1 425.6,211.1 425.9,211.1 426.1,211.1 426.4,211.1 426.6,211.1 426.9,211.1 427.1,211.1 427.4,211.1 427.6,211.1 427.9,211.0 428.1,211.0 428.4,211.0 428.6,211.0 428.9,211.0 429.1,211.0 429.4,211.0 429.6,211.0 429.9,211.0 430.1,211.0 430.4,211.0 430.6,211.0 430.9,211.0 431.1,211.0 431.4,211.0 431.6,211.0 431.9,211.0 432.1,211.0 432.4,211.0 432.6,211.0 432.9,211.0 433.1,211.0 433.4,210.9 433.6,210.9 433.9,210.9 434.1,210.9 434.4,210.9 434.6,210.9 434.9,210.9 435.1,210.9 435.4,210.9 435.6,210.9 435.9,210.9 436.1,210.9 436.4,210.9 436.6,210.9 436.9,210.9 437.1,210.9 437.4,210.9 437.6,210.9 437.9,210.9 438.1,210.9 438.4,210.9 438.6,210.9 438.9,210.8 439.1,210.8 439.4,210.8 439.6,210.8 439.9,210.8 440.1,210.8 440.4,210.8 440.6,210.8 440.9,210.8 441.1,210.8 441.4,210.8 441.6,210.8 441.9,210.8 442.1,210.8 442.4,210.8 442.6,210.8 442.9,210.8 443.1,210.8 443.4,210.8 443.6,210.8 443.9,210.8 444.1,210.8 444.4,210.7 444.6,210.7 444.9,210.7 445.1,210.7 445.4,210.7 445.6,210.7 445.9,210.7 446.1,210.7 446.4,210.7 446.6,210.7 446.9,210.7 447.1,210.7 447.4,210.7 447.6,210.7 447.9,210.7 448.1,210.7 448.4,210.7 448.6,210.7 448.9,210.7 449.1,210.7 449.4,210.7 449.6,210.7 449.9,210.6 450.1,210.6 450.4,210.6 450.6,210.6 450.9,210.6 451.1,210.6 451.4,210.6 451.6,210.6 451.9,210.6 452.1,210.6 452.4,210.6 452.6,210.6 452.9,210.6 453.1,210.6 453.4,210.6 453.6,210.6 453.9,210.6 454.1,210.6 454.4,210.6 454.6,210.6 454.9,210.6 455.1,210.6 455.4,210.5 455.6,210.5 455.9,210.5 456.1,210.5 456.4,210.5 456.6,210.5 456.9,210.5 457.1,210.5 457.4,210.5 457.6,210.5 457.9,210.5 458.1,210.5 458.4,210.5 458.6,210.5 458.9,210.5 459.1,210.5 459.4,210.5 459.6,210.5 459.9,210.5 460.1,210.5 460.4,210.5 460.6,210.5 460.9,210.4 461.1,210.4 461.4,210.4 461.6,210.4 461.9,210.4 462.1,210.4 462.4,210.4 462.6,210.4 462.9,210.4 463.1,210.4 463.4,210.4 463.6,210.4 463.9,210.4 464.1,210.4 464.4,210.4 464.6,210.4 464.9,210.4 465.1,210.4 465.4,210.4 465.6,210.4 465.9,210.4 466.1,210.4 466.4,210.3 466.6,210.3 466.9,210.3 467.1,210.3 467.4,210.3 467.6,210.3 467.9,210.3 468.1,210.3 468.4,210.3 468.6,210.3 468.9,210.3 469.1,210.3 469.4,210.3 469.6,210.3 469.9,210.3 470.1,210.3 470.4,210.3 470.6,210.3 470.9,210.3 471.1,210.3 471.4,210.3 471.6,210.3 471.9,210.2 472.1,210.2 472.4,210.2 472.6,210.2 472.9,210.2 473.1,210.2 473.4,210.2 473.6,210.2 473.9,210.2 474.1,210.2 474.4,210.2 474.6,210.2 474.9,210.2 475.1,210.2 475.4,210.2 475.6,210.2 475.9,210.2 476.1,210.2 476.4,210.2 476.6,210.2 476.9,210.2 477.1,210.2 477.4,210.1 477.6,210.1 477.9,210.1 478.1,210.1 478.4,210.1 478.6,210.1 478.9,210.1 479.1,210.1 479.4,210.1 479.6,210.1 479.9,210.1 480.1,210.1 480.4,210.1 480.6,210.1 480.9,210.1 481.1,210.1 481.4,210.1 481.6,210.1 481.9,210.1 482.1,210.1 482.4,210.1 482.6,210.1 482.9,210.0 483.1,210.0 483.4,210.0 483.6,210.0 483.9,210.0 484.1,210.0 484.4,210.0 484.6,210.0 484.9,210.0 485.1,210.0 485.4,210.0 485.6,210.0 485.9,210.0 486.1,210.0 486.4,210.0 486.6,210.0 486.9,210.0 487.1,210.0 487.4,210.0 487.6,210.0 487.9,210.0 488.1,210.0 488.4,209.9 488.6,209.9 488.9,209.9 489.1,209.9 489.4,209.9 489.6,209.9 489.9,209.9 490.1,209.9 490.4,209.9 490.6,209.9 490.9,209.9 491.1,209.9 491.4,209.9 491.6,209.9 491.9,209.9 492.1,209.9 492.4,209.9 492.6,209.9 492.9,209.9 493.1,209.9 493.4,209.9 493.6,209.9 493.9,209.8 494.1,209.8 494.4,209.8 494.6,209.8 494.9,209.8 495.1,209.8 495.4,209.8 495.6,209.8 495.9,209.8 496.1,209.8 496.4,209.8 496.6,209.8 496.9,209.8 497.1,209.8 497.4,209.8 497.6,209.8 497.9,209.8 498.1,209.8 498.4,209.8 498.6,209.8 498.9,209.8 499.1,209.8 499.4,209.7 499.6,209.7 499.9,209.7 500.1,209.7 500.4,209.7 500.6,209.7 500.9,209.7 501.1,209.7 501.4,209.7 501.6,209.7 501.9,209.7 502.1,209.7 502.4,209.7 502.6,209.7 502.9,209.7 503.1,209.7 503.4,209.7 503.6,209.7 503.9,209.7 504.1,209.7 504.4,209.7 504.6,209.7 504.9,209.6 505.1,209.6 505.4,209.6 505.6,209.6 505.9,209.6 506.1,209.6 506.4,209.6 506.6,209.6 506.9,209.6 507.1,209.6 507.4,209.6 507.6,209.6 507.9,209.6 508.1,209.6 508.4,209.6 508.6,209.6 508.9,209.6 509.1,209.6 509.4,209.6 509.6,209.6 509.9,209.6 510.1,209.6 510.4,209.5 510.6,209.5 510.9,209.5 511.1,209.5 511.4,209.5 511.6,209.5 511.9,209.5 512.1,209.5 512.4,209.5 512.6,209.5 512.9,209.5 513.1,209.5 513.4,209.5 513.6,209.5 513.9,209.5 514.1,209.5 514.4,209.5 514.6,209.5 514.9,209.5 515.1,209.5 515.4,209.5 515.6,209.5 515.9,209.4 516.1,209.4 516.4,209.4 516.6,209.4 516.9,209.4 517.1,209.4 517.4,209.4 517.6,209.4 517.9,209.4 518.1,209.4 518.4,209.4 518.6,209.4 518.9,209.4 519.1,209.4 519.4,209.4 519.6,209.4 519.9,209.4 520.1,209.4 520.4,209.4 520.6,209.4 520.9,209.4 521.1,209.4 521.4,209.3 521.6,209.3 521.9,209.3 522.1,209.3 522.4,209.3 522.6,209.3 522.9,209.3 523.1,209.3 523.4,209.3 523.6,209.3 523.9,209.3 524.1,209.3 524.4,209.3 524.6,209.3 524.9,209.3 525.1,209.3 525.4,209.3 525.6,209.3 525.9,209.3 526.1,209.3 526.4,209.3 526.6,209.3 526.9,209.2 527.1,209.2 527.4,209.2 527.6,209.2 527.9,209.2 528.1,209.2 528.4,209.2 528.6,209.2 528.9,209.2 529.1,209.2 529.4,209.2 529.6,209.2 529.9,209.2 530.1,209.2 530.4,209.2 530.6,209.2 530.9,209.2 531.1,209.2 531.4,209.2 531.6,209.2 531.9,209.2 532.1,209.2 532.4,209.1 532.6,209.1 532.9,209.1 533.1,209.1 533.4,209.1 533.6,209.1 533.9,209.1 534.1,209.1 534.4,209.1 534.6,209.1 534.9,209.1 535.1,209.1 535.4,209.1 535.6,209.1 535.9,209.1 536.1,209.1 536.4,209.1 536.6,209.1 536.9,209.0 537.1,209.0 537.4,209.0 537.6,209.0 537.9,209.0 538.1,209.0 538.4,209.0 538.6,209.0 538.9,209.0 539.1,209.0 539.4,209.0 539.6,209.0 539.9,209.0 540.1,208.9 540.4,208.9 540.6,208.9 540.9,208.9 541.1,208.9 541.4,208.9 541.6,208.9 541.9,208.9 542.1,208.9 542.4,208.9 542.6,208.9 542.9,208.9 543.1,208.9 543.4,208.8 543.6,208.8 543.9,208.8 544.1,208.8 544.4,208.8 544.6,208.8 544.9,208.8 545.1,208.8 545.4,208.8 545.6,208.8 545.9,208.8 546.1,208.8 546.4,208.8 546.6,208.8 546.9,208.7 547.1,208.7 547.4,208.7 547.6,208.7 547.9,208.7 548.1,208.7 548.4,208.7 548.6,208.7 548.9,208.7 549.1,208.7 549.4,208.7 549.6,208.7 549.9,208.7 550.1,208.6 550.4,208.6 550.6,208.6 550.9,208.6 551.1,208.6 551.4,208.6 551.6,208.6 551.9,208.6 552.1,208.6 552.4,208.6 552.6,208.6 552.9,208.6 553.1,208.6 553.4,208.5 553.6,208.5 553.9,208.5 554.1,208.5 554.4,208.5 554.6,208.5 554.9,208.5 555.1,208.5 555.4,208.5 555.6,208.5 555.9,208.5 556.1,208.5 556.4,208.5 556.6,208.5 556.9,208.4 557.1,208.4 557.4,208.4 557.6,208.4 557.9,208.4 558.1,208.4 558.4,208.4 558.6,208.4 558.9,208.4 559.1,208.4 559.4,208.4 559.6,208.4 559.9,208.4 560.1,208.3 560.4,208.3 560.6,208.3 560.9,208.3 561.1,208.3 561.4,208.3 561.6,208.3 561.9,208.3 562.1,208.3 562.4,208.3 562.6,208.3 562.9,208.3 563.1,208.3 563.4,208.2 563.6,208.2 563.9,208.2 564.1,208.2 564.4,208.2 564.6,208.2 564.9,208.2 565.1,208.2 565.4,208.2 565.6,208.2 565.9,208.1 566.1,208.1 566.4,208.1 566.6,208.1 566.9,208.1 567.1,208.1 567.4,208.0 567.6,208.0 567.9,208.0 568.1,208.0 568.2,208.0 568.1,227.6 567.9,227.7 567.6,227.7 567.4,227.7 567.1,227.6 566.9,227.4 566.6,227.1 566.4,226.5 566.1,226.5 565.9,226.5 565.6,226.5 565.4,226.5 565.1,226.7 564.9,226.8 564.6,226.8 564.4,226.8 564.1,226.7 563.9,226.5 563.6,225.8 563.4,219.6 563.1,219.5 562.9,219.3 562.6,218.9 562.4,218.9 562.1,218.9 561.9,220.0 561.6,220.7 561.4,220.9 561.1,221.0 560.9,221.0 560.6,221.0 560.4,220.9 560.1,220.8 559.9,220.6 559.6,220.6 559.4,220.6 559.1,220.6 558.9,220.5 558.6,220.4 558.4,220.4 558.1,220.4 557.9,220.4 557.6,220.4 557.4,220.6 557.1,220.8 556.9,223.7 556.6,224.4 556.4,224.6 556.1,224.7 555.9,224.7 555.6,224.7 555.4,224.7 555.1,224.7 554.9,224.6 554.6,224.6 554.4,224.6 554.1,224.6 553.9,224.6 553.6,224.6 553.4,231.1 553.1,231.8 552.9,232.0 552.6,232.1 552.4,232.1 552.1,232.4 551.9,232.6 551.6,232.8 551.4,232.8 551.1,232.8 550.9,232.6 550.6,232.6 550.4,232.6 550.1,232.5 549.9,232.3 549.6,231.6 549.4,223.4 549.1,223.4 548.9,223.4 548.6,223.4 548.4,223.6 548.1,223.7 547.9,223.7 547.6,223.7 547.4,223.7 547.1,223.7 546.9,231.2 546.6,231.9 546.4,232.1 546.1,232.2 545.9,232.2 545.6,232.2 545.4,232.2 545.1,232.2 544.9,232.2 544.6,232.2 544.4,232.7 544.1,232.9 543.9,233.0 543.6,233.0 543.4,233.0 543.1,233.2 542.9,233.3 542.6,233.4 542.4,233.4 542.1,233.4 541.9,233.3 541.6,233.3 541.4,233.2 541.1,233.1 540.9,232.9 540.6,232.3 540.4,220.7 540.1,220.7 539.9,220.7 539.6,220.7 539.4,220.7 539.1,220.6 538.9,220.6 538.6,220.6 538.4,234.2 538.1,234.9 537.9,235.1 537.6,235.2 537.4,235.2 537.1,235.2 536.9,235.2 536.6,235.3 536.4,235.3 536.1,235.3 535.9,235.2 535.6,235.0 535.4,234.5 535.1,234.5 534.9,234.5 534.6,234.4 534.4,234.1 534.1,233.5 533.9,218.9 533.6,218.9 533.4,218.9 533.1,218.9 532.9,218.9 532.6,219.0 532.4,219.0 532.1,219.0 531.9,219.0 531.6,219.0 531.4,231.2 531.1,231.8 530.9,232.0 530.6,232.1 530.4,232.2 530.1,232.1 529.9,232.1 529.6,232.1 529.4,232.1 529.1,232.1 528.9,232.1 528.6,232.0 528.4,231.8 528.1,231.1 527.9,221.5 527.6,221.3 527.4,220.9 527.1,220.9 526.9,220.9 526.6,220.9 526.4,223.9 526.1,224.6 525.9,224.8 525.6,224.9 525.4,224.9 525.1,224.9 524.9,225.3 524.6,225.5 524.4,225.6 524.1,225.6 523.9,225.6 523.6,225.5 523.4,225.5 523.1,225.5 522.9,225.5 522.6,225.5 522.4,225.7 522.1,225.8 521.9,225.9 521.6,225.9 521.4,225.9 521.1,225.9 520.9,225.9 520.6,225.8 520.4,225.6 520.1,224.9 519.9,219.7 519.6,218.5 519.4,218.5 519.1,218.5 518.9,218.5 518.6,218.5 518.4,218.7 518.1,218.8 517.9,218.8 517.6,218.8 517.4,218.7 517.1,218.5 516.9,218.5 516.6,218.5 516.4,218.5 516.1,218.5 515.9,218.5 515.6,218.5 515.4,225.1 515.1,225.7 514.9,225.9 514.6,226.0 514.4,226.4 514.1,226.6 513.9,226.7 513.6,226.7 513.4,226.7 513.1,226.7 512.9,226.7 512.6,226.6 512.4,226.4 512.1,225.7 511.9,221.2 511.6,221.2 511.4,221.2 511.1,221.1 510.9,220.9 510.6,220.3 510.4,220.3 510.1,220.3 509.9,220.3 509.6,220.3 509.4,220.5 509.1,220.6 508.9,231.6 508.6,232.3 508.4,232.5 508.1,232.6 507.9,232.7 507.6,232.8 507.4,232.8 507.1,232.8 506.9,232.6 506.6,232.4 506.4,232.4 506.1,232.3 505.9,232.1 505.6,231.4 505.4,219.1 505.1,219.1 504.9,219.1 504.6,219.1 504.4,219.1 504.1,219.2 503.9,229.8 503.6,230.5 503.4,230.7 503.1,230.8 502.9,231.0 502.6,231.1 502.4,231.1 502.1,231.1 501.9,231.0 501.6,230.8 501.4,230.6 501.1,230.6 500.9,240.7 500.6,241.4 500.4,241.6 500.1,241.7 499.9,241.8 499.6,241.8 499.4,241.8 499.1,241.8 498.9,242.4 498.6,242.6 498.4,242.7 498.1,242.7 497.9,242.7 497.6,242.6 497.4,242.6 497.1,242.6 496.9,242.5 496.6,242.4 496.4,242.2 496.1,241.6 495.9,221.5 495.6,221.5 495.4,221.5 495.1,221.5 494.9,221.5 494.6,221.5 494.4,221.5 494.1,221.4 493.9,221.2 493.6,220.9 493.4,224.4 493.1,225.1 492.9,225.3 492.6,225.4 492.4,225.4 492.1,225.4 491.9,225.4 491.6,225.4 491.4,225.4 491.1,225.6 490.9,225.7 490.6,225.8 490.4,225.8 490.1,225.8 489.9,225.7 489.6,225.6 489.4,225.4 489.1,224.8 488.9,222.3 488.6,222.2 488.4,222.0 488.1,222.0 487.9,222.0 487.6,222.0 487.4,222.0 487.1,222.5 486.9,222.8 486.6,222.9 486.4,222.9 486.1,222.9 485.9,230.8 485.6,231.4 485.4,231.6 485.1,231.8 484.9,231.8 484.6,231.8 484.4,231.8 484.1,231.7 483.9,231.6 483.6,231.4 483.4,231.1 483.1,231.1 482.9,231.0 482.6,230.9 482.4,230.7 482.1,230.1 481.9,223.5 481.6,223.5 481.4,223.5 481.1,223.5 480.9,223.5 480.6,223.7 480.4,223.8 480.1,223.8 479.9,223.8 479.6,223.8 479.4,223.7 479.1,223.7 478.9,225.5 478.6,226.2 478.4,226.4 478.1,226.6 477.9,226.7 477.6,226.7 477.4,226.7 477.1,226.7 476.9,226.6 476.6,226.6 476.4,226.6 476.1,226.6 475.9,226.6 475.6,226.6 475.4,226.7 475.1,226.7 474.9,226.7 474.6,226.6 474.4,226.4 474.1,225.7 473.9,221.6 473.6,221.5 473.4,221.3 473.1,221.0 472.9,220.3 472.6,220.3 472.4,220.3 472.1,220.3 471.9,220.3 471.6,220.3 471.4,220.4 471.1,220.4 470.9,220.4 470.6,220.4 470.4,221.0 470.1,221.2 469.9,221.9 469.6,222.2 469.4,222.4 469.1,222.5 468.9,222.5 468.6,222.5 468.4,222.5 468.1,222.4 467.9,222.2 467.6,222.0 467.4,222.0 467.1,222.0 466.9,222.0 466.6,222.0 466.4,222.1 466.1,222.2 465.9,222.1 465.6,222.0 465.4,221.8 465.1,221.2 464.9,220.4 464.6,220.3 464.4,220.2 464.1,220.0 463.9,219.8 463.6,219.8 463.4,219.8 463.1,219.8 462.9,219.8 462.6,219.7 462.4,219.6 462.1,219.6 461.9,224.5 461.6,225.2 461.4,225.4 461.1,225.5 460.9,225.5 460.6,225.5 460.4,225.4 460.1,225.2 459.9,224.9 459.6,224.9 459.4,224.9 459.1,224.9 458.9,224.9 458.6,225.1 458.4,225.2 458.1,225.3 457.9,225.4 457.6,225.4 457.4,225.5 457.1,225.5 456.9,225.6 456.6,225.5 456.4,225.4 456.1,225.2 455.9,224.6 455.6,223.9 455.4,221.4 455.1,221.4 454.9,221.4 454.6,222.0 454.4,222.3 454.1,222.5 453.9,222.6 453.6,222.7 453.4,237.9 453.1,238.5 452.9,238.7 452.6,238.8 452.4,238.9 452.1,239.3 451.9,239.5 451.6,239.6 451.4,239.6 451.1,239.6 450.9,239.5 450.6,239.5 450.4,239.5 450.1,239.5 449.9,239.5 449.6,239.4 449.4,239.2 449.1,238.5 448.9,221.1 448.6,221.1 448.4,221.1 448.1,221.2 447.9,221.3 447.6,221.2 447.4,221.1 447.1,221.0 446.9,220.8 446.6,220.8 446.4,220.8 446.1,220.8 445.9,220.8 445.6,221.1 445.4,221.3 445.1,221.4 444.9,222.6 444.6,223.2 444.4,223.4 444.1,223.6 443.9,223.6 443.6,223.6 443.4,223.6 443.1,223.6 442.9,223.7 442.6,223.7 442.4,223.7 442.1,223.6 441.9,223.4 441.6,223.2 441.4,223.1 441.1,223.1 440.9,223.0 440.6,222.8 440.4,222.1 440.1,222.1 439.9,231.6 439.6,232.2 439.4,232.4 439.1,233.1 438.9,233.3 438.6,233.4 438.4,233.4 438.1,233.4 437.9,233.3 437.6,233.3 437.4,233.3 437.1,233.2 436.9,233.0 436.6,232.3 436.4,224.6 436.1,224.6 435.9,224.6 435.6,224.6 435.4,232.4 435.1,233.1 434.9,233.3 434.6,233.4 434.4,233.4 434.1,233.4 433.9,233.3 433.6,233.3 433.4,233.3 433.1,233.3 432.9,233.3 432.6,233.2 432.4,233.0 432.1,232.3 431.9,225.5 431.6,225.4 431.4,225.3 431.1,225.3 430.9,225.3 430.6,225.3 430.4,225.2 430.1,225.0 429.9,224.7 429.6,224.7 429.4,224.7 429.1,224.7 428.9,224.7 428.6,225.2 428.4,225.4 428.1,225.5 427.9,226.4 427.6,227.0 427.4,227.2 427.1,227.3 426.9,227.4 426.6,227.3 426.4,227.2 426.1,227.0 425.9,228.7 425.6,229.4 425.4,229.6 425.1,229.7 424.9,229.7 424.6,229.7 424.4,229.7 424.1,229.7 423.9,229.7 423.6,229.6 423.4,229.4 423.1,228.7 422.9,224.2 422.6,224.2 422.4,224.1 422.1,224.0 421.9,224.0 421.6,224.0 421.4,229.4 421.1,230.0 420.9,230.2 420.6,230.3 420.4,230.4 420.1,230.4 419.9,230.4 419.6,230.4 419.4,230.4 419.1,230.4 418.9,230.4 418.6,230.3 418.4,230.1 418.1,229.4 417.9,221.2 417.6,221.2 417.4,221.2 417.1,221.1 416.9,220.9 416.6,220.9 416.4,220.9 416.1,220.9 415.9,223.9 415.6,224.6 415.4,224.8 415.1,224.9 414.9,225.5 414.6,226.1 414.4,226.3 414.1,226.4 413.9,226.4 413.6,226.4 413.4,226.4 413.1,226.7 412.9,226.9 412.6,227.0 412.4,227.0 412.1,227.0 411.9,226.9 411.6,226.9 411.4,226.9 411.1,226.9 410.9,226.9 410.6,226.9 410.4,227.1 410.1,227.2 409.9,227.3 409.6,227.3 409.4,227.3 409.1,227.2 408.9,229.4 408.6,230.1 408.4,230.3 408.1,230.4 407.9,230.5 407.6,230.5 407.4,230.5 407.1,230.4 406.9,230.2 406.6,229.5 406.4,229.3 406.1,228.7 405.9,226.3 405.6,226.3 405.4,227.0 405.1,227.4 404.9,227.6 404.6,227.7 404.4,227.7 404.1,227.7 403.9,227.6 403.6,227.6 403.4,227.6 403.1,227.6 402.9,227.6 402.6,227.6 402.4,227.6 402.1,227.5 401.9,227.3 401.6,227.0 401.4,226.3 401.1,225.7 400.9,221.1 400.6,221.1 400.4,221.1 400.1,221.2 399.9,224.1 399.6,224.8 399.4,225.0 399.1,225.1 398.9,225.2 398.6,225.2 398.4,225.3 398.1,225.3 397.9,225.3 397.6,225.3 397.4,225.7 397.1,225.9 396.9,226.0 396.6,226.1 396.4,226.1 396.1,226.2 395.9,226.2 395.6,226.2 395.4,226.2 395.1,226.2 394.9,257.4 394.6,258.0 394.4,258.2 394.1,258.4 393.9,258.4 393.6,258.6 393.4,258.8 393.1,258.9 392.9,258.9 392.6,258.9 392.4,258.8 392.1,258.8 391.9,258.8 391.6,258.7 391.4,258.5 391.1,257.8 390.9,225.1 390.6,225.1 390.4,225.1 390.1,225.1 389.9,227.4 389.6,228.1 389.4,228.3 389.1,228.4 388.9,228.4 388.6,228.4 388.4,228.7 388.1,228.9 387.9,229.0 387.6,229.0 387.4,229.0 387.1,228.9 386.9,228.9 386.6,228.9 386.4,228.8 386.1,228.7 385.9,228.5 385.6,228.5 385.4,228.5 385.1,228.5 384.9,228.5 384.6,228.4 384.4,228.3 384.1,228.3 383.9,228.3 383.6,228.3 383.4,228.3 383.1,228.5 382.9,228.7 382.6,228.8 382.4,228.8 382.1,228.8 381.9,228.7 381.6,228.7 381.4,228.7 381.1,228.6 380.9,228.4 380.6,228.2 380.4,228.2 380.1,228.2 379.9,228.2 379.6,228.2 379.4,228.4 379.1,228.5 378.9,228.6 378.6,228.6 378.4,228.6 378.1,228.6 377.9,228.8 377.6,228.9 377.4,228.9 377.1,228.9 376.9,228.8 376.6,228.7 376.4,228.7 376.1,228.7 375.9,231.3 375.6,232.0 375.4,232.3 375.1,232.5 374.9,232.6 374.6,232.6 374.4,232.6 374.1,232.6 373.9,232.6 373.6,232.5 373.4,232.3 373.1,231.6 372.9,228.6 372.6,228.6 372.4,228.6 372.1,228.6 371.9,228.6 371.6,228.6 371.4,233.3 371.1,233.9 370.9,234.1 370.6,234.2 370.4,234.3 370.1,234.2 369.9,234.2 369.6,234.2 369.4,234.2 369.1,234.2 368.9,234.3 368.6,234.4 368.4,234.3 368.1,234.2 367.9,234.0 367.6,233.4 367.4,231.1 367.1,231.1 366.9,231.1 366.6,231.1 366.4,231.2 366.1,231.3 365.9,231.3 365.6,231.3 365.4,231.3 365.1,231.3 364.9,231.4 364.6,231.5 364.4,231.4 364.1,231.3 363.9,231.1 363.6,230.5 363.4,226.5 363.1,226.4 362.9,226.3 362.6,226.1 362.4,225.5 362.1,225.5 361.9,225.5 361.6,225.5 361.4,238.2 361.1,238.8 360.9,239.0 360.6,239.1 360.4,239.2 360.1,239.1 359.9,239.0 359.6,239.0 359.4,239.0 359.1,239.0 358.9,239.0 358.6,239.0 358.4,239.1 358.1,239.2 357.9,239.1 357.6,239.0 357.4,238.8 357.1,238.2 356.9,227.2 356.6,227.2 356.4,227.2 356.1,227.2 355.9,232.0 355.6,232.6 355.4,232.9 355.1,233.0 354.9,233.0 354.6,233.2 354.4,233.4 354.1,233.5 353.9,233.6 353.6,233.6 353.4,233.7 353.1,233.7 352.9,233.7 352.6,233.6 352.4,233.4 352.1,232.7 351.9,229.8 351.6,229.8 351.4,229.8 351.1,229.8 350.9,229.8 350.6,229.8 350.4,229.8 350.1,229.7 349.9,229.5 349.6,229.2 349.4,228.6 349.1,228.6 348.9,228.6 348.6,228.6 348.4,228.6 348.1,229.2 347.9,229.4 347.6,229.5 347.4,229.6 347.1,229.6 346.9,229.5 346.6,229.5 346.4,229.5 346.1,229.5 345.9,229.4 345.6,229.2 345.4,228.5 345.1,228.5 344.9,228.5 344.6,228.5 344.4,228.5 344.1,228.6 343.9,228.6 343.6,228.6 343.4,228.6 343.1,228.6 342.9,229.3 342.6,229.7 342.4,232.4 342.1,233.0 341.9,233.2 341.6,233.3 341.4,233.4 341.1,233.3 340.9,233.2 340.6,233.0 340.4,232.4 340.1,232.3 339.9,232.1 339.6,231.4 339.4,229.2 339.1,229.2 338.9,229.2 338.6,229.2 338.4,229.2 338.1,229.2 337.9,229.2 337.6,229.7 337.4,229.9 337.1,230.0 336.9,230.1 336.6,230.0 336.4,229.9 336.1,229.9 335.9,229.9 335.6,229.9 335.4,229.9 335.1,229.8 334.9,229.8 334.6,229.8 334.4,229.8 334.1,229.8 333.9,230.0 333.6,230.1 333.4,230.1 333.1,230.1 332.9,230.0 332.6,229.9 332.4,229.7 332.1,229.7 331.9,229.7 331.6,229.6 331.4,229.4 331.1,228.7 330.9,227.0 330.6,227.0 330.4,227.0 330.1,227.0 329.9,227.2 329.6,227.3 329.4,227.4 329.1,227.4 328.9,228.3 328.6,229.0 328.4,229.2 328.1,229.3 327.9,229.3 327.6,229.3 327.4,229.5 327.1,229.6 326.9,229.7 326.6,229.6 326.4,229.5 326.1,229.3 325.9,229.1 325.6,229.1 325.4,229.1 325.1,229.1 324.9,229.1 324.6,229.0 324.4,244.8 324.1,245.4 323.9,245.6 323.6,245.7 323.4,245.9 323.1,246.0 322.9,246.1 322.6,246.1 322.4,246.1 322.1,246.2 321.9,246.2 321.6,246.2 321.4,246.2 321.1,246.1 320.9,245.9 320.6,245.2 320.4,228.4 320.1,228.4 319.9,228.3 319.6,228.1 319.4,227.5 319.1,227.5 318.9,227.5 318.6,227.5 318.4,227.4 318.1,227.4 317.9,233.5 317.6,234.2 317.4,234.4 317.1,234.5 316.9,234.6 316.6,234.6 316.4,234.6 316.1,234.6 315.9,234.5 315.6,234.3 315.4,234.3 315.1,234.3 314.9,234.3 314.6,234.3 314.4,234.9 314.1,235.1 313.9,235.2 313.6,235.3 313.4,235.3 313.1,235.3 312.9,235.6 312.6,241.8 312.4,242.5 312.1,242.7 311.9,242.8 311.6,242.8 311.4,242.8 311.1,242.8 310.9,242.8 310.6,242.7 310.4,242.5 310.1,242.5 309.9,242.5 309.6,242.5 309.4,242.5 309.1,242.7 308.9,242.8 308.6,242.8 308.4,242.8 308.1,242.7 307.9,242.6 307.6,242.6 307.4,242.6 307.1,242.6 306.9,242.6 306.6,242.6 306.4,243.2 306.1,243.4 305.9,243.5 305.6,243.5 305.4,243.5 305.1,243.4 304.9,243.2 304.6,242.5 304.4,228.5 304.1,227.9 303.9,227.3 303.6,227.3 303.4,227.3 303.1,227.3 302.9,227.3 302.6,227.2 302.4,227.2 302.1,227.2 301.9,227.2 301.6,227.2 301.4,227.6 301.1,233.7 300.9,234.4 300.6,234.6 300.4,234.7 300.1,234.7 299.9,234.7 299.6,234.7 299.4,234.7 299.1,234.7 298.9,234.7 298.6,234.7 298.4,234.7 298.1,234.6 297.9,234.4 297.6,233.7 297.4,225.1 297.1,225.1 296.9,225.1 296.6,225.1 296.4,225.1 296.1,225.8 295.9,226.0 295.6,226.2 295.4,235.8 295.1,236.5 294.9,236.7 294.6,236.8 294.4,236.8 294.1,236.8 293.9,236.8 293.6,236.8 293.4,237.0 293.1,237.2 292.9,237.3 292.6,237.3 292.4,246.3 292.1,246.9 291.9,247.1 291.6,247.2 291.4,247.3 291.1,247.2 290.9,247.1 290.6,247.1 290.4,247.1 290.1,247.1 289.9,247.1 289.6,247.2 289.4,247.3 289.1,247.2 288.9,247.2 288.6,247.1 288.4,246.9 288.1,246.2 287.9,237.9 287.6,237.9 287.4,237.9 287.1,237.9 286.9,238.0 286.6,238.0 286.4,238.0 286.1,238.0 285.9,238.0 285.6,238.1 285.4,238.2 285.1,238.2 284.9,238.2 284.6,238.1 284.4,238.0 284.1,238.0 283.9,238.0 283.6,238.0 283.4,238.0 283.1,237.9 282.9,237.7 282.6,237.0 282.4,228.9 282.1,228.9 281.9,229.1 281.6,229.2 281.4,229.2 281.1,236.1 280.9,236.8 280.6,237.0 280.4,237.1 280.1,237.1 279.9,237.1 279.6,237.0 279.4,236.9 279.1,236.7 278.9,236.6 278.6,236.5 278.4,236.3 278.1,235.7 277.9,228.6 277.6,228.6 277.4,228.6 277.1,228.6 276.9,228.6 276.6,229.2 276.4,229.4 276.1,229.5 275.9,229.5 275.6,229.5 275.4,235.8 275.1,236.4 274.9,236.6 274.6,236.7 274.4,236.8 274.1,236.7 273.9,236.6 273.6,236.6 273.4,236.6 273.1,236.6 272.9,236.6 272.6,236.9 272.4,237.1 272.1,237.2 271.9,237.2 271.6,237.2 271.4,238.3 271.1,242.7 270.9,243.4 270.6,243.6 270.4,243.7 270.1,243.7 269.9,243.7 269.6,243.7 269.4,243.7 269.1,243.7 268.9,243.6 268.6,243.4 268.4,242.7 268.1,234.2 267.9,234.0 267.6,233.6 267.4,233.0 267.1,233.0 266.9,233.0 266.6,233.0 266.4,241.3 266.1,242.0 265.9,242.2 265.6,242.3 265.4,242.3 265.1,242.3 264.9,243.0 264.6,243.2 264.4,243.3 264.1,243.3 263.9,243.3 263.6,243.2 263.4,243.0 263.1,242.3 262.9,233.7 262.6,233.4 262.4,232.7 262.1,232.7 261.9,232.7 261.6,232.7 261.4,232.7 261.1,232.7 260.9,232.9 260.6,233.0 260.4,233.0 260.1,233.0 259.9,232.9 259.6,232.7 259.4,237.6 259.1,238.2 258.9,238.4 258.6,238.5 258.4,238.6 258.1,238.7 257.9,238.6 257.6,238.5 257.4,238.3 257.1,237.9 256.9,237.9 256.6,237.9 256.4,237.9 256.1,237.9 255.8,238.1 255.6,238.2 255.3,238.3 255.1,238.3 254.8,238.3 254.6,238.2 254.3,238.2 254.1,238.2 253.8,238.2 253.6,238.2 253.3,238.2 253.1,238.3 252.8,238.3 252.6,238.4 252.3,238.3 252.1,238.2 251.8,238.0 251.6,237.8 251.3,237.8 251.1,237.8 250.8,237.8 250.6,237.9 250.3,238.0 250.1,238.0 249.8,238.0 249.6,238.0 249.3,238.2 249.1,238.3 248.8,238.3 248.6,238.3 248.3,238.3 248.1,238.3 247.8,238.3 247.6,238.3 247.3,238.2 247.1,238.0 246.8,237.7 246.6,237.0 246.3,237.0 246.1,237.0 245.8,237.0 245.6,237.0 245.3,237.1 245.1,237.1 244.8,237.1 244.6,237.0 244.3,236.9 244.1,236.7 243.8,236.0 243.6,236.0 243.3,236.0 243.1,235.9 242.8,235.7 242.6,235.7 242.3,235.7 242.1,235.7 241.8,235.7 241.6,235.8 241.3,235.9 241.1,236.0 240.8,236.0 240.6,235.9 240.3,235.8 240.1,235.7 239.8,235.7 239.6,235.7 239.3,235.7 239.1,235.7 238.8,235.8 238.6,235.9 238.3,235.9 238.1,235.9 237.8,235.8 237.6,235.6 237.3,235.6 237.1,235.6 236.8,235.6 236.6,235.6 236.3,235.6 236.1,235.6 235.8,235.6 235.6,235.5 235.3,235.3 235.1,234.9 234.8,239.7 234.6,240.3 234.3,240.5 234.1,240.6 233.8,240.7 233.6,240.9 233.3,241.0 233.1,241.0 232.8,241.0 232.6,241.0 232.3,240.9 232.1,240.8 231.8,240.6 231.6,240.0 231.3,235.9 231.1,235.7 230.8,235.7 230.6,235.7 230.3,235.7 230.1,235.7 229.8,241.7 229.6,242.3 229.3,242.5 229.1,242.6 228.8,242.7 228.6,242.6 228.3,243.3 228.1,244.0 227.8,244.2 227.6,244.3 227.3,244.3 227.1,244.6 226.8,245.2 226.6,245.8 226.3,246.0 226.1,246.1 225.8,246.6 225.6,246.8 225.3,246.9 225.1,246.9 224.8,246.9 224.6,246.9 224.3,247.0 224.1,247.6 223.8,247.9 223.6,248.1 223.3,248.4 223.1,248.6 222.8,250.9 222.6,251.5 222.3,251.7 222.1,251.8 221.8,251.9 221.6,251.8 221.3,251.7 221.1,251.5 220.8,250.9 220.6,250.2 220.3,250.2 220.1,250.2 219.8,250.2 219.6,250.2 219.3,250.2 219.1,250.2 218.8,250.1 218.6,250.0 218.3,249.7 218.1,249.8 217.8,249.7 217.6,249.6 217.3,249.5 217.1,249.3 216.8,248.7 216.6,248.5 216.3,247.8 216.1,241.1 215.8,241.1 215.6,241.3 215.3,241.4 215.1,241.4 214.8,241.4 214.6,241.4 214.3,241.3 214.1,241.1 213.8,241.1 213.6,241.1 213.3,241.1 213.1,241.1 212.8,241.5 212.6,241.7 212.3,241.8 212.1,241.8 211.8,241.8 211.6,241.8 211.3,241.8 211.1,241.8 210.8,241.8 210.6,243.3 210.3,244.0 210.1,244.2 209.8,244.3 209.6,244.3 209.3,244.3 209.1,244.2 208.8,244.0 208.6,243.3 208.3,241.8 208.1,241.8 207.8,241.8 207.6,241.8 207.3,241.8 207.1,241.8 206.8,241.8 206.6,241.8 206.5,344.5 204.3,346.0 201.5,343.0 199.9,341.0 198.8,349.0 197.7,354.0 194.0,355.5 191.0,356.4 191.0,368.0 191.0,378.0 189.5,379.3 187.4,380.0 183.3,407.4 178.4,452.0" stroke-width="0.6"/>
<polyline points="144.6,836.2 148.6,835.3 150.2,835.6 151.2,837.2 152.7,842.6 154.2,848.5 155.0,850.6 155.8,848.5 156.8,842.6 157.6,837.5 158.4,836.0 160.0,835.6 161.2,834.2 162.2,831.7 163.2,828.3 164.0,824.4 164.9,815.4 165.4,806.0 165.7,797.2 165.9,770.0 165.9,727.0 165.8,700.0 166.2,620.0 166.6,550.0 167.1,532.0 168.0,518.5 170.0,504.0 173.2,487.0 175.3,465.0 176.2,450.0" fill="none" stroke="#ff7a0a" stroke-width="4"/>
<polyline points="568.0,207.6 570.0,207.3 585.0,207.1 600.0,206.9 625.0,206.3 650.0,205.8 680.0,205.6 720.0,205.5 890.0,205.5" fill="none" stroke="#ff7a0a" stroke-width="4.1" stroke-linecap="square"/>
</g>
</g>
<rect x="107.8" y="16.65" width="819.15" height="888.05" fill="none" stroke="#1c1c1c" stroke-width="1.3"/>
<g stroke="#222" stroke-width="1.1">
<line x1="144.65" y1="904.3" x2="144.65" y2="909.0"/>
<line x1="342.65" y1="904.3" x2="342.65" y2="909.0"/>
<line x1="540.65" y1="904.3" x2="540.65" y2="909.0"/>
<line x1="738.65" y1="904.3" x2="738.65" y2="909.0"/>
<line x1="107.7" y1="904.30" x2="102.8" y2="904.30"/>
<line x1="107.7" y1="815.52" x2="102.8" y2="815.52"/>
<line x1="107.7" y1="726.74" x2="102.8" y2="726.74"/>
<line x1="107.7" y1="637.96" x2="102.8" y2="637.96"/>
<line x1="107.7" y1="549.18" x2="102.8" y2="549.18"/>
<line x1="107.7" y1="460.40" x2="102.8" y2="460.40"/>
<line x1="107.7" y1="371.62" x2="102.8" y2="371.62"/>
<line x1="107.7" y1="282.84" x2="102.8" y2="282.84"/>
<line x1="107.7" y1="194.06" x2="102.8" y2="194.06"/>
<line x1="107.7" y1="105.28" x2="102.8" y2="105.28"/>
<line x1="107.7" y1="16.50" x2="102.8" y2="16.50"/>
</g>
<g font-family='"DejaVu Sans", "Liberation Sans", sans-serif' font-weight="bold" font-size="36px" fill="#000">
<text x="98.3" y="918.25" text-anchor="end">0.0</text>
<text x="98.3" y="829.47" text-anchor="end">0.1</text>
<text x="98.3" y="740.69" text-anchor="end">0.2</text>
<text x="98.3" y="651.91" text-anchor="end">0.3</text>
<text x="98.3" y="563.13" text-anchor="end">0.4</text>
<text x="98.3" y="474.35" text-anchor="end">0.5</text>
<text x="98.3" y="385.57" text-anchor="end">0.6</text>
<text x="98.3" y="296.79" text-anchor="end">0.7</text>
<text x="98.3" y="208.01" text-anchor="end">0.8</text>
<text x="98.3" y="119.23" text-anchor="end">0.9</text>
<text x="98.3" y="30.45" text-anchor="end">1.0</text>
<text x="144.65" y="941.5" text-anchor="middle">0</text>
<text x="342.65" y="941.5" text-anchor="middle">5000</text>
<text x="540.65" y="941.5" text-anchor="middle">10000</text>
<text x="738.65" y="941.5" text-anchor="middle">15000</text>
<text x="517.25" y="981.0" text-anchor="middle">epochs</text>
<text transform="translate(23.3,461.40) rotate(-90)" text-anchor="middle">accuracy</text>
</g>
<rect x="574.5" y="770.1" width="334.7" height="116.4" rx="5.2" ry="5.2" fill="#fff" fill-opacity="0.8" stroke="#ccc" stroke-opacity="0.8" stroke-width="1.4"/>
<line x1="588.8" y1="799.3" x2="660.8" y2="799.3" stroke="#176fb2" stroke-width="4.2" stroke-linecap="square"/>
<line x1="588.8" y1="852.3" x2="660.8" y2="852.3" stroke="#ff7a0a" stroke-width="4.2" stroke-linecap="square"/>
<g font-family='"DejaVu Sans", "Liberation Sans", sans-serif' font-weight="bold" font-size="36px" fill="#000">
<text x="689.5" y="811.1">Training</text>
<text x="689.5" y="864.8">Validation</text>
</g>
</svg>
</body>
</html>
